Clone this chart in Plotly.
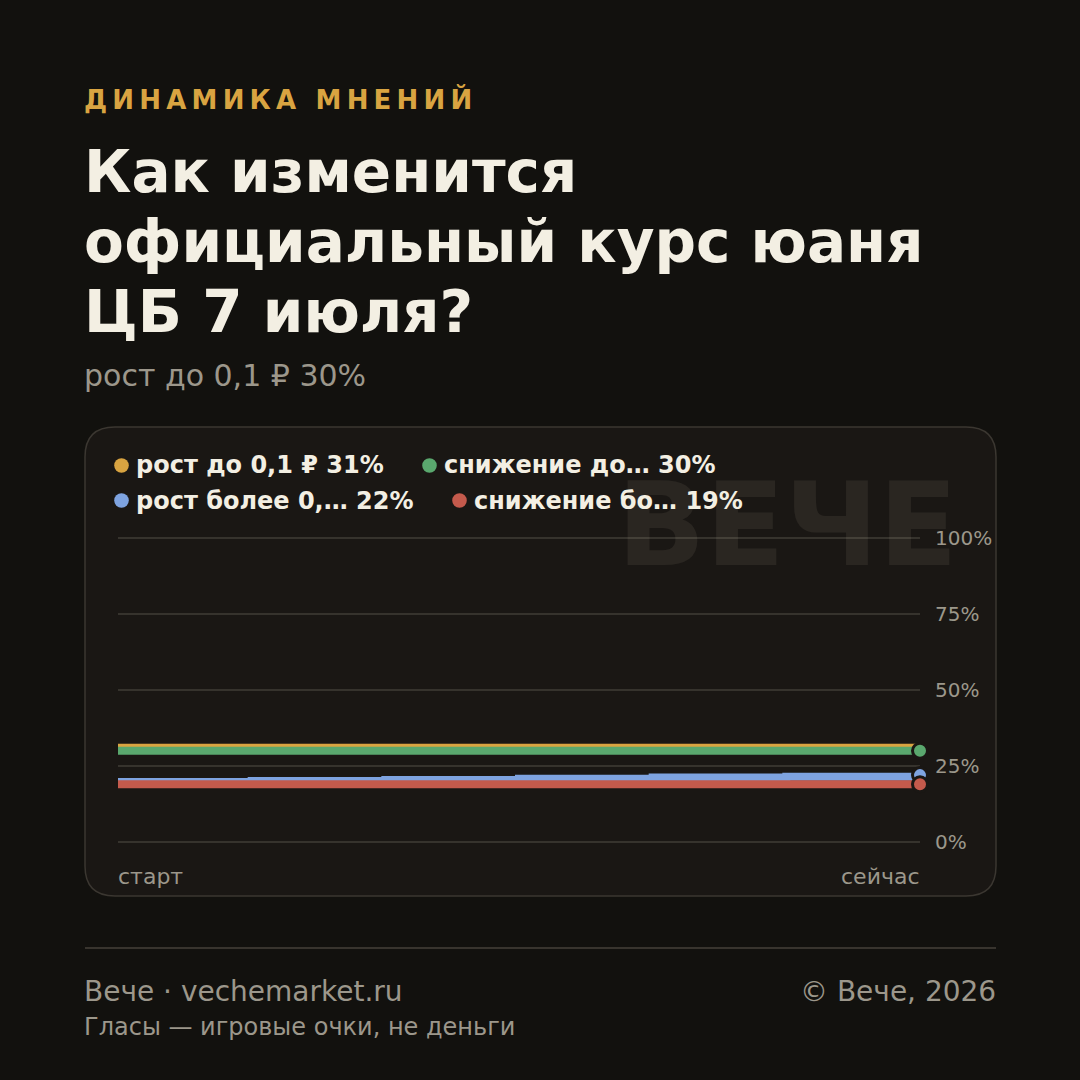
import plotly.graph_objects as go

# ---------------- data ----------------
steps = [0, 1, 2, 3, 4, 5, 6]
series_names = ["рост до 0,1 ₽", "снижение до…", "рост более 0,…", "снижение бо…"]
series_pct = [31, 30, 22, 19]
orange_vals = [31, 31, 31, 31, 31, 31, 31]
green_vals = [30, 30, 30, 30, 30, 30, 30]
blue_vals = [19.7, 20.1, 20.4, 20.8, 21.2, 21.5, 22]
red_vals = [19, 19, 19, 19, 19, 19, 19]
y_ticks = [0, 25, 50, 75, 100]
y_tick_text = ["0%", "25%", "50%", "75%", "100%"]
x_labels = ["старт", "сейчас"]

W = H = 1080
BG = "#12110e"
CARD = "#1a1714"
FONT = "DejaVu Sans"
COLORS = ["#d9a441", "#5aa86e", "#7ea3e0", "#c45a4c"]
GREY = "#9c978b"


def px(x):
    return x / W


def py(y):
    return 1 - y / H


fig = go.Figure()

all_vals = [orange_vals, green_vals, blue_vals, red_vals]
for vals, col, name in zip(all_vals, COLORS, series_names):
    fig.add_trace(go.Scatter(
        x=steps, y=vals, mode="lines", line=dict(color=col, width=8, shape="hv"),
        name=name, showlegend=False, hoverinfo="skip", cliponaxis=False))

# end markers (orange hidden beneath green in the reference)
for vals, col in list(zip(all_vals, COLORS))[1:]:
    fig.add_trace(go.Scatter(
        x=[steps[-1]], y=[vals[-1]], mode="markers",
        marker=dict(color=col, size=15, line=dict(color=CARD, width=3)),
        showlegend=False, hoverinfo="skip", cliponaxis=False))

# axis geometry: 0% at y=842 px, 100% at y=538 px
x0p, x1p = 118, 920
ppu = (842 - 538) / 100.0
ylo, yhi = -2, 102
dom_bottom = 842 - ylo * ppu
dom_top = 538 - (yhi - 100) * ppu

fig.update_layout(
    width=W, height=H,
    margin=dict(l=0, r=0, t=0, b=0, pad=0, autoexpand=False),
    paper_bgcolor=BG, plot_bgcolor="rgba(0,0,0,0)",
    showlegend=False,
    xaxis=dict(domain=[px(x0p), px(x1p)], range=[0, 6], showgrid=False, zeroline=False,
               showticklabels=False, showline=False, fixedrange=True, automargin=False),
    yaxis=dict(domain=[py(dom_bottom), py(dom_top)], range=[ylo, yhi], side="right",
               tickvals=y_ticks, ticktext=y_tick_text, showgrid=True,
               gridcolor="#36332d", gridwidth=2, zeroline=False, showline=False,
               ticks="", ticklabelstandoff=14, automargin=False,
               tickfont=dict(family=FONT, size=20, color=GREY), fixedrange=True),
)

# card with rounded corners
cx0, cy0, cx1, cy1, r = 85, 427, 996, 896, 30
path = (f"M {px(cx0 + r)} {py(cy0)} L {px(cx1 - r)} {py(cy0)} "
        f"Q {px(cx1)} {py(cy0)} {px(cx1)} {py(cy0 + r)} "
        f"L {px(cx1)} {py(cy1 - r)} Q {px(cx1)} {py(cy1)} {px(cx1 - r)} {py(cy1)} "
        f"L {px(cx0 + r)} {py(cy1)} Q {px(cx0)} {py(cy1)} {px(cx0)} {py(cy1 - r)} "
        f"L {px(cx0)} {py(cy0 + r)} Q {px(cx0)} {py(cy0)} {px(cx0 + r)} {py(cy0)} Z")
fig.add_shape(type="path", path=path, xref="paper", yref="paper",
              fillcolor=CARD, line=dict(color="#3b3731", width=1.5), layer="below")

# footer separator
fig.add_shape(type="line", xref="paper", yref="paper", x0=px(85), x1=px(996),
              y0=py(948), y1=py(948), line=dict(color="#38342e", width=2), layer="below")

# legend dots + labels
legend_pos = [(121.5, 465.5, 136), (429.5, 465.5, 444), (121.5, 500.5, 136), (459.5, 500.5, 474)]
for (dx, dy, tx), col, name, pct in zip(legend_pos, COLORS, series_names, series_pct):
    rr = 7.3
    fig.add_shape(type="circle", xref="paper", yref="paper",
                  x0=px(dx - rr), x1=px(dx + rr), y0=py(dy + rr), y1=py(dy - rr),
                  fillcolor=col, line=dict(width=0))
    fig.add_annotation(x=px(tx - 2), y=py(dy), xref="paper", yref="paper",
                       xanchor="left", yanchor="middle", showarrow=False,
                       text=f"<b>{name} {pct}%</b>",
                       font=dict(family=FONT, size=24, color="#f3efe3"))

# watermark
fig.add_annotation(x=px(960), y=py(524), xref="paper", yref="paper", xanchor="right",
                   yanchor="middle", showarrow=False, text="<b>ВЕЧЕ</b>",
                   font=dict(family=FONT, size=116, color="rgba(255,240,215,0.07)"))

# x labels
fig.add_annotation(x=px(116), y=py(876), xref="paper", yref="paper", xanchor="left",
                   yanchor="middle", showarrow=False, text=x_labels[0],
                   font=dict(family=FONT, size=22, color=GREY))
fig.add_annotation(x=px(922), y=py(876), xref="paper", yref="paper", xanchor="right",
                   yanchor="middle", showarrow=False, text=x_labels[1],
                   font=dict(family=FONT, size=22, color=GREY))

# header
header = "\u2009".join(list("ДИНАМИКА МНЕНИЙ"))
fig.add_annotation(x=px(82), y=py(100), xref="paper", yref="paper", xanchor="left",
                   yanchor="middle", showarrow=False, text=f"<b>{header}</b>",
                   font=dict(family=FONT, size=26, color="#d9a441"))

# title lines
title_lines = ["Как изменится", "официальный курс юаня", "ЦБ 7 июля?"]
for i, t in enumerate(title_lines):
    fig.add_annotation(x=px(82), y=py(172 + 70 * i), xref="paper", yref="paper",
                       xanchor="left", yanchor="middle", showarrow=False,
                       text=f"<b>{t}</b>",
                       font=dict(family=FONT, size=58, color="#f3efe3"))

# subtitle
fig.add_annotation(x=px(82), y=py(376), xref="paper", yref="paper", xanchor="left",
                   yanchor="middle", showarrow=False, text="рост до 0,1 ₽ 30%",
                   font=dict(family=FONT, size=30, color=GREY))

# footer
fig.add_annotation(x=px(82), y=py(991), xref="paper", yref="paper", xanchor="left",
                   yanchor="middle", showarrow=False, text="Вече · vechemarket.ru",
                   font=dict(family=FONT, size=28, color=GREY))
fig.add_annotation(x=px(998), y=py(991), xref="paper", yref="paper", xanchor="right",
                   yanchor="middle", showarrow=False, text="© Вече, 2026",
                   font=dict(family=FONT, size=28, color=GREY))
fig.add_annotation(x=px(82), y=py(1027), xref="paper", yref="paper", xanchor="left",
                   yanchor="middle", showarrow=False, text="Гласы — игровые очки, не деньги",
                   font=dict(family=FONT, size=24, color=GREY))

fig.write_html("out.html")
